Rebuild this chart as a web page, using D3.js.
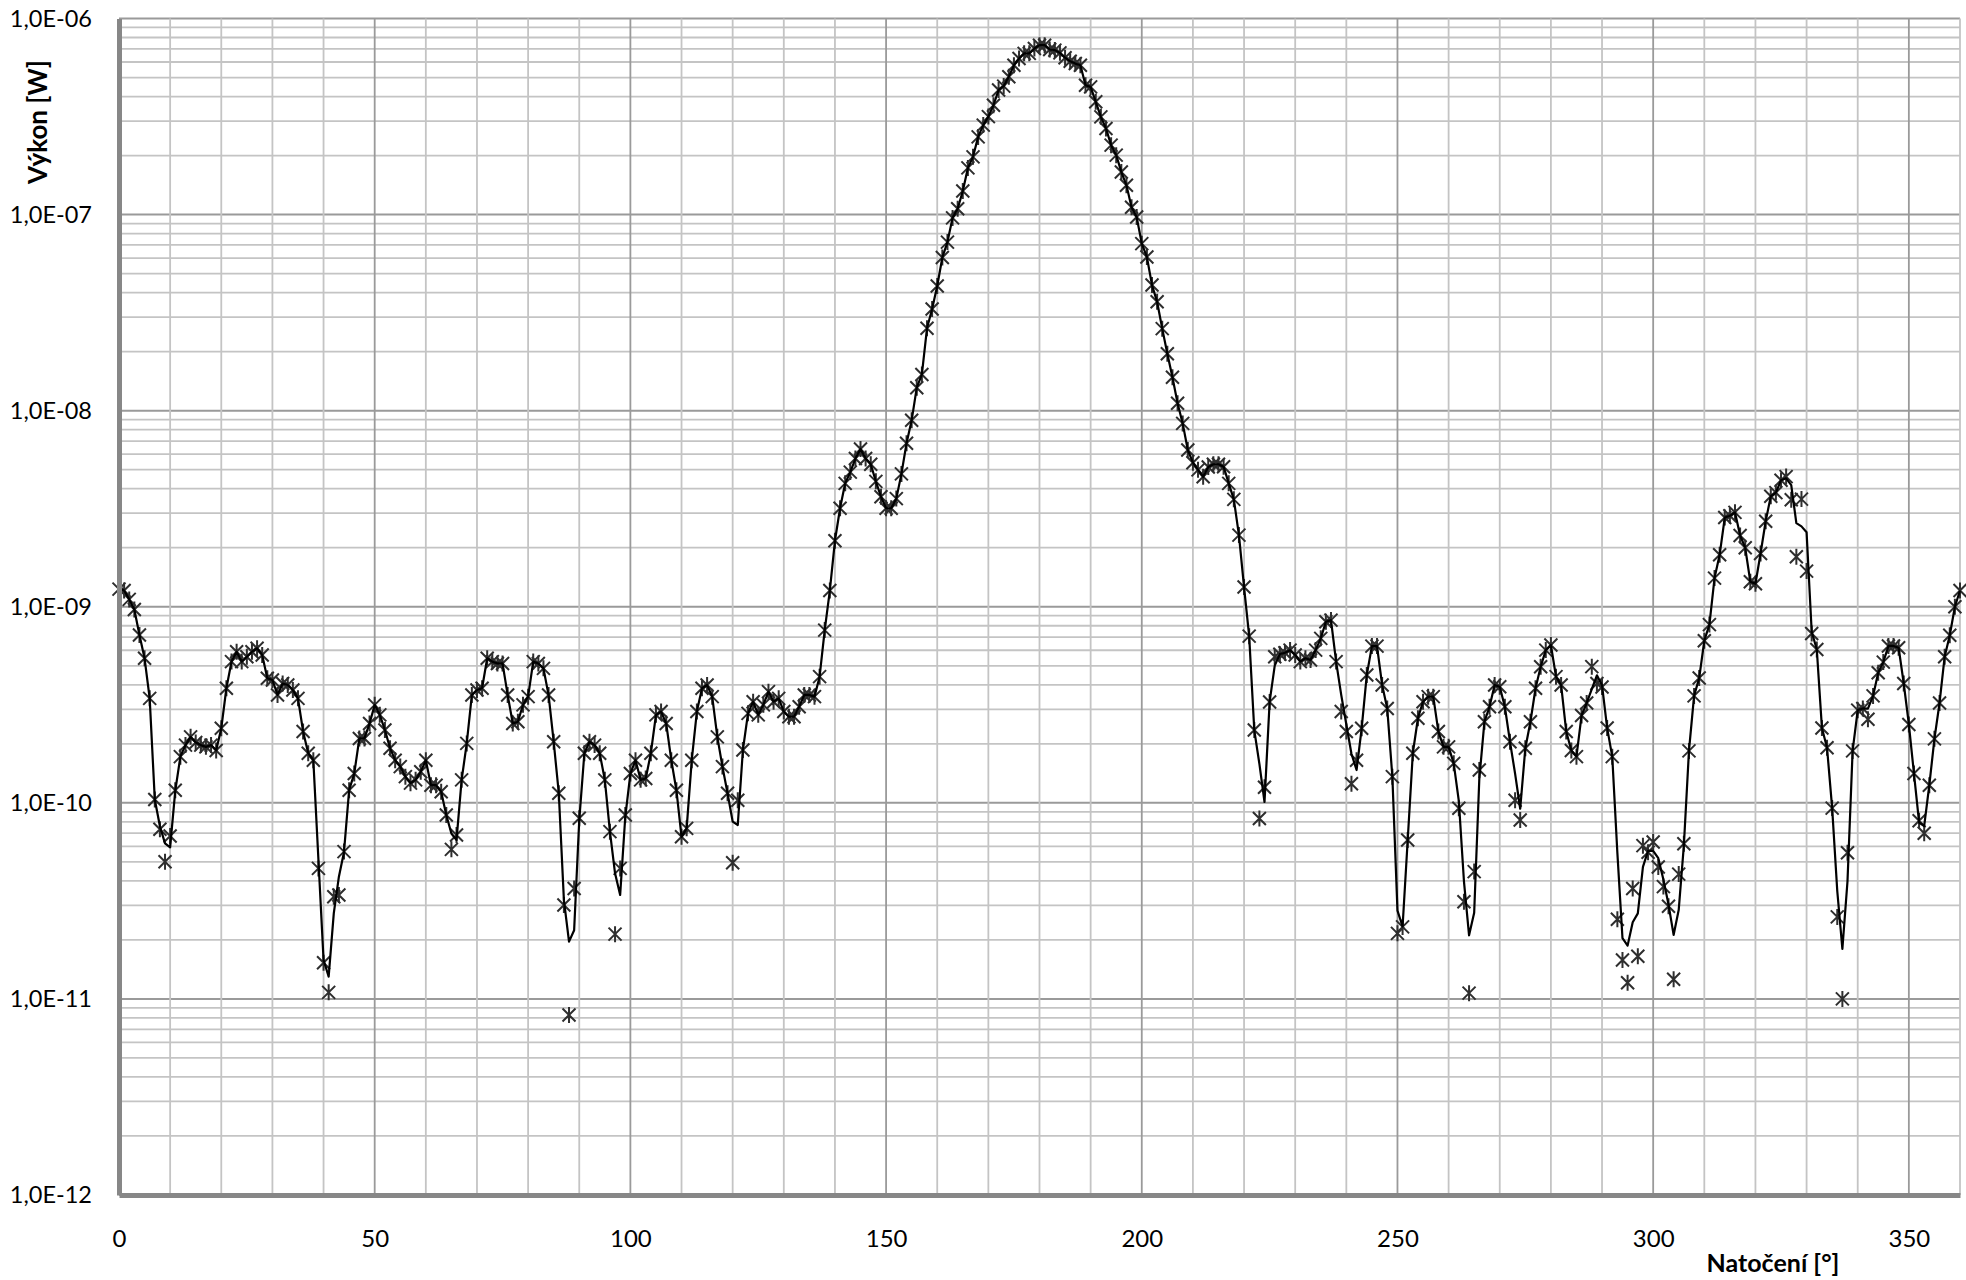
<!DOCTYPE html>
<html>
<head>
<meta charset="utf-8">
<script src="https://cdn.jsdelivr.net/npm/d3@7"></script>
<style>
  body { margin: 0; background: #fff; }
  svg { display: block; }
  text { font-family: Lato, "Open Sans", sans-serif; fill: #000; }
</style>
</head>
<body>
<div class="chart"></div>
<script>
// Width and height of the page
var w = 1966;
var h = 1280;

// plot area edges (px)
var margin = ({top: 18.5, right: 6, bottom: 85, left: 119});

// angle of rotation, one reading per degree
var angles = d3.range(0, 361);

// measured power [W] (star markers)
var measured = [
  1.23e-9, 1.21e-9, 1.09e-9, 9.68e-10, 7.18e-10, 5.46e-10, 3.41e-10, 1.04e-10, 7.33e-11, 5.01e-11,
  6.78e-11, 1.16e-10, 1.72e-10, 1.97e-10, 2.17e-10, 2.03e-10, 1.97e-10, 1.93e-10, 1.97e-10, 1.85e-10,
  2.40e-10, 3.84e-10, 5.25e-10, 5.90e-10, 5.25e-10, 5.56e-10, 5.90e-10, 6.14e-10, 5.68e-10, 4.32e-10,
  4.23e-10, 3.55e-10, 4.06e-10, 3.99e-10, 3.76e-10, 3.41e-10, 2.31e-10, 1.79e-10, 1.65e-10, 4.63e-11,
  1.53e-11, 1.08e-11, 3.32e-11, 3.39e-11, 5.64e-11, 1.16e-10, 1.41e-10, 2.13e-10, 2.13e-10, 2.54e-10,
  3.16e-10, 2.81e-10, 2.35e-10, 1.90e-10, 1.65e-10, 1.53e-10, 1.36e-10, 1.26e-10, 1.31e-10, 1.44e-10,
  1.65e-10, 1.23e-10, 1.23e-10, 1.14e-10, 8.67e-11, 5.79e-11, 6.85e-11, 1.31e-10, 2.01e-10, 3.55e-10,
  3.76e-10, 3.84e-10, 5.46e-10, 5.25e-10, 5.14e-10, 5.14e-10, 3.55e-10, 2.54e-10, 2.59e-10, 3.16e-10,
  3.48e-10, 5.25e-10, 5.14e-10, 4.85e-10, 3.55e-10, 2.05e-10, 1.12e-10, 3.01e-11, 8.28e-12, 3.66e-11,
  8.34e-11, 1.79e-10, 2.05e-10, 1.97e-10, 1.79e-10, 1.31e-10, 7.13e-11, 2.14e-11, 4.63e-11, 8.67e-11,
  1.41e-10, 1.65e-10, 1.31e-10, 1.33e-10, 1.79e-10, 2.81e-10, 2.92e-10, 2.54e-10, 1.65e-10, 1.16e-10,
  6.71e-11, 7.41e-11, 1.65e-10, 2.92e-10, 3.84e-10, 3.99e-10, 3.48e-10, 2.17e-10, 1.53e-10, 1.12e-10,
  4.95e-11, 1.03e-10, 1.86e-10, 2.86e-10, 3.28e-10, 2.81e-10, 3.16e-10, 3.69e-10, 3.28e-10, 3.41e-10,
  2.92e-10, 2.75e-10, 2.75e-10, 3.09e-10, 3.55e-10, 3.55e-10, 3.48e-10, 4.40e-10, 7.60e-10, 1.21e-9,
  2.17e-9, 3.18e-9, 4.26e-9, 4.86e-9, 5.70e-9, 6.38e-9, 5.70e-9, 5.33e-9, 4.36e-9, 3.64e-9,
  3.18e-9, 3.18e-9, 3.56e-9, 4.76e-9, 6.82e-9, 8.93e-9, 1.31e-8, 1.53e-8, 2.63e-8, 3.30e-8,
  4.32e-8, 6.04e-8, 7.24e-8, 9.62e-8, 1.07e-7, 1.32e-7, 1.73e-7, 1.97e-7, 2.49e-7, 2.86e-7,
  3.16e-7, 3.61e-7, 4.32e-7, 4.52e-7, 5.05e-7, 5.78e-7, 6.25e-7, 6.64e-7, 6.64e-7, 7.03e-7,
  7.31e-7, 7.31e-7, 6.95e-7, 6.90e-7, 6.68e-7, 6.31e-7, 6.05e-7, 5.89e-7, 5.78e-7, 4.57e-7,
  4.48e-7, 3.76e-7, 3.15e-7, 2.75e-7, 2.26e-7, 2.01e-7, 1.65e-7, 1.41e-7, 1.09e-7, 9.72e-8,
  7.11e-8, 6.08e-8, 4.37e-8, 3.59e-8, 2.62e-8, 1.95e-8, 1.48e-8, 1.09e-8, 8.61e-9, 6.30e-9,
  5.43e-9, 4.99e-9, 4.60e-9, 5.16e-9, 5.33e-9, 5.33e-9, 5.18e-9, 4.26e-9, 3.53e-9, 2.32e-9,
  1.26e-9, 7.08e-10, 2.35e-10, 8.32e-11, 1.20e-10, 3.27e-10, 5.56e-10, 5.73e-10, 5.83e-10, 6.01e-10,
  5.68e-10, 5.25e-10, 5.46e-10, 5.35e-10, 6.01e-10, 6.90e-10, 8.39e-10, 8.55e-10, 5.25e-10, 2.92e-10,
  2.31e-10, 1.25e-10, 1.65e-10, 2.40e-10, 4.49e-10, 6.30e-10, 6.30e-10, 3.99e-10, 3.03e-10, 1.36e-10,
  2.16e-11, 2.33e-11, 6.46e-11, 1.79e-10, 2.70e-10, 3.28e-10, 3.48e-10, 3.48e-10, 2.31e-10, 1.93e-10,
  1.93e-10, 1.59e-10, 9.38e-11, 3.13e-11, 1.07e-11, 4.46e-11, 1.47e-10, 2.59e-10, 3.09e-10, 3.99e-10,
  3.91e-10, 3.09e-10, 2.05e-10, 1.03e-10, 8.17e-11, 1.90e-10, 2.59e-10, 3.84e-10, 4.94e-10, 6.01e-10,
  6.38e-10, 4.40e-10, 3.99e-10, 2.31e-10, 1.85e-10, 1.72e-10, 2.79e-10, 3.23e-10, 4.95e-10, 4.06e-10,
  3.90e-10, 2.41e-10, 1.72e-10, 2.55e-11, 1.58e-11, 1.21e-11, 3.66e-11, 1.65e-11, 6.05e-11, 5.60e-11,
  6.31e-11, 4.71e-11, 3.74e-11, 2.97e-11, 1.26e-11, 4.33e-11, 6.18e-11, 1.84e-10, 3.51e-10, 4.33e-10,
  6.71e-10, 8.11e-10, 1.40e-9, 1.84e-9, 2.85e-9, 2.91e-9, 3.03e-9, 2.31e-9, 2.00e-9, 1.34e-9,
  1.31e-9, 1.87e-9, 2.73e-9, 3.66e-9, 3.82e-9, 4.42e-9, 4.61e-9, 3.51e-9, 1.80e-9, 3.54e-9,
  1.52e-9, 7.31e-10, 6.05e-10, 2.41e-10, 1.91e-10, 9.40e-11, 2.62e-11, 1.00e-11, 5.56e-11, 1.84e-10,
  2.97e-10, 3.03e-10, 2.67e-10, 3.51e-10, 4.61e-10, 5.22e-10, 6.31e-10, 6.31e-10, 6.18e-10, 4.06e-10,
  2.51e-10, 1.41e-10, 8.11e-11, 7.00e-11, 1.23e-10, 2.12e-10, 3.23e-10, 5.56e-10, 7.16e-10, 1.00e-9,
  1.21e-9
];

// second series [W] (solid line)
var lineSeries = [
  1.24e-9, 1.21e-9, 1.09e-9, 9.68e-10, 7.18e-10, 5.46e-10, 3.41e-10, 1.04e-10, 7.59e-11, 6.21e-11,
  5.93e-11, 1.15e-10, 1.72e-10, 1.97e-10, 2.17e-10, 2.03e-10, 1.97e-10, 1.93e-10, 1.97e-10, 1.85e-10,
  2.40e-10, 3.84e-10, 5.25e-10, 5.90e-10, 5.25e-10, 5.56e-10, 5.90e-10, 6.14e-10, 5.68e-10, 4.32e-10,
  4.23e-10, 3.55e-10, 4.06e-10, 3.99e-10, 3.76e-10, 3.41e-10, 2.31e-10, 1.79e-10, 1.65e-10, 5.11e-11,
  1.58e-11, 1.30e-11, 2.73e-11, 4.20e-11, 5.62e-11, 1.16e-10, 1.41e-10, 2.13e-10, 2.13e-10, 2.54e-10,
  3.16e-10, 2.81e-10, 2.35e-10, 1.90e-10, 1.65e-10, 1.53e-10, 1.36e-10, 1.26e-10, 1.31e-10, 1.44e-10,
  1.65e-10, 1.23e-10, 1.23e-10, 1.14e-10, 8.67e-11, 6.98e-11, 6.46e-11, 1.31e-10, 2.01e-10, 3.55e-10,
  3.76e-10, 3.84e-10, 5.46e-10, 5.25e-10, 5.14e-10, 5.14e-10, 3.55e-10, 2.54e-10, 2.59e-10, 3.16e-10,
  3.48e-10, 5.25e-10, 5.14e-10, 4.85e-10, 3.55e-10, 2.05e-10, 1.12e-10, 3.19e-11, 1.96e-11, 2.24e-11,
  8.17e-11, 1.79e-10, 2.05e-10, 1.97e-10, 1.79e-10, 1.31e-10, 7.13e-11, 4.37e-11, 3.39e-11, 8.49e-11,
  1.41e-10, 1.65e-10, 1.31e-10, 1.33e-10, 1.79e-10, 2.81e-10, 2.92e-10, 2.54e-10, 1.65e-10, 1.16e-10,
  6.71e-11, 7.41e-11, 1.65e-10, 2.92e-10, 3.84e-10, 3.99e-10, 3.48e-10, 2.17e-10, 1.53e-10, 1.12e-10,
  8.02e-11, 7.71e-11, 1.86e-10, 2.86e-10, 3.28e-10, 2.81e-10, 3.16e-10, 3.69e-10, 3.28e-10, 3.41e-10,
  2.92e-10, 2.75e-10, 2.75e-10, 3.09e-10, 3.55e-10, 3.55e-10, 3.48e-10, 4.40e-10, 7.60e-10, 1.21e-9,
  2.17e-9, 3.18e-9, 4.26e-9, 4.86e-9, 5.70e-9, 6.38e-9, 5.70e-9, 5.33e-9, 4.36e-9, 3.64e-9,
  3.18e-9, 3.18e-9, 3.56e-9, 4.76e-9, 6.82e-9, 8.93e-9, 1.31e-8, 1.53e-8, 2.63e-8, 3.30e-8,
  4.32e-8, 6.04e-8, 7.24e-8, 9.62e-8, 1.07e-7, 1.32e-7, 1.73e-7, 1.97e-7, 2.49e-7, 2.86e-7,
  3.16e-7, 3.61e-7, 4.32e-7, 4.52e-7, 5.05e-7, 5.78e-7, 6.25e-7, 6.64e-7, 6.64e-7, 7.03e-7,
  7.31e-7, 7.31e-7, 6.95e-7, 6.90e-7, 6.68e-7, 6.31e-7, 6.05e-7, 5.89e-7, 5.78e-7, 4.57e-7,
  4.48e-7, 3.76e-7, 3.15e-7, 2.75e-7, 2.26e-7, 2.01e-7, 1.65e-7, 1.41e-7, 1.09e-7, 9.72e-8,
  7.11e-8, 6.08e-8, 4.37e-8, 3.59e-8, 2.62e-8, 1.95e-8, 1.48e-8, 1.09e-8, 8.61e-9, 6.30e-9,
  5.43e-9, 4.99e-9, 4.60e-9, 5.16e-9, 5.33e-9, 5.33e-9, 5.18e-9, 4.26e-9, 3.53e-9, 2.32e-9,
  1.26e-9, 7.08e-10, 2.35e-10, 1.58e-10, 1.01e-10, 3.27e-10, 5.01e-10, 5.73e-10, 5.83e-10, 6.01e-10,
  5.68e-10, 5.25e-10, 5.46e-10, 5.35e-10, 6.01e-10, 6.90e-10, 8.39e-10, 8.55e-10, 5.25e-10, 3.55e-10,
  2.51e-10, 1.78e-10, 1.47e-10, 2.40e-10, 4.49e-10, 6.30e-10, 6.30e-10, 3.99e-10, 3.03e-10, 1.36e-10,
  2.82e-11, 2.34e-11, 6.46e-11, 1.79e-10, 2.70e-10, 3.28e-10, 3.48e-10, 3.48e-10, 2.31e-10, 1.93e-10,
  1.93e-10, 1.59e-10, 1.02e-10, 3.98e-11, 2.11e-11, 2.75e-11, 1.32e-10, 2.59e-10, 3.09e-10, 3.99e-10,
  3.91e-10, 3.09e-10, 2.05e-10, 1.41e-10, 9.33e-11, 1.90e-10, 2.59e-10, 3.84e-10, 4.94e-10, 6.01e-10,
  6.38e-10, 4.40e-10, 3.99e-10, 2.31e-10, 1.85e-10, 1.72e-10, 2.79e-10, 3.23e-10, 3.80e-10, 4.47e-10,
  3.98e-10, 2.41e-10, 1.72e-10, 5.56e-11, 2.04e-11, 1.87e-11, 2.46e-11, 2.73e-11, 4.71e-11, 5.69e-11,
  5.69e-11, 5.22e-11, 4.06e-11, 3.03e-11, 2.12e-11, 2.85e-11, 6.05e-11, 1.84e-10, 3.51e-10, 4.33e-10,
  6.71e-10, 8.11e-10, 1.40e-9, 1.84e-9, 2.85e-9, 2.91e-9, 3.03e-9, 2.31e-9, 2.00e-9, 1.34e-9,
  1.31e-9, 1.87e-9, 2.73e-9, 3.66e-9, 3.82e-9, 4.42e-9, 4.52e-9, 4.17e-9, 2.67e-9, 2.57e-9,
  2.40e-9, 7.46e-10, 6.05e-10, 2.41e-10, 1.91e-10, 9.40e-11, 3.55e-11, 1.80e-11, 3.98e-11, 1.84e-10,
  2.97e-10, 3.03e-10, 3.02e-10, 3.51e-10, 4.61e-10, 5.22e-10, 6.31e-10, 6.31e-10, 6.18e-10, 4.06e-10,
  2.51e-10, 1.41e-10, 7.94e-11, 7.62e-11, 1.23e-10, 2.12e-10, 3.23e-10, 5.56e-10, 7.16e-10, 1.00e-9,
  1.21e-9
];

// axis ticks
var xTicks = [0, 50, 100, 150, 200, 250, 300, 350];
var yTicks = [1e-12, 1e-11, 1e-10, 1e-9, 1e-8, 1e-7, 1e-6];
var yTickLabels = ["1,0E-12", "1,0E-11", "1,0E-10", "1,0E-09", "1,0E-08", "1,0E-07", "1,0E-06"];

var svg = d3.select(".chart")
    .append("svg")
    .attr("width", w)
    .attr("height", h);

// scales
var xScale = d3.scaleLinear()
    .domain([0, 360])
    .range([margin.left, w - margin.right]);

var yScale = d3.scaleLog()
    .domain([1e-12, 1e-6])
    .range([h - margin.bottom, margin.top]);

// minor grid values 2..9 inside every decade
var minorY = [];
yTicks.slice(0, -1).forEach(function(t) {
    for (var k = 2; k <= 9; k++) minorY.push(t * k);
});

var grid = svg.append("g").attr("class", "grid");

// horizontal grid
grid.selectAll("line.hminor")
    .data(minorY)
    .enter().append("line")
    .attr("x1", margin.left).attr("x2", w - margin.right)
    .attr("y1", function(d) { return yScale(d); })
    .attr("y2", function(d) { return yScale(d); })
    .attr("stroke", "#c4c4c4")
    .attr("stroke-width", 1.8);

grid.selectAll("line.hmajor")
    .data(yTicks)
    .enter().append("line")
    .attr("x1", margin.left).attr("x2", w - margin.right)
    .attr("y1", function(d) { return yScale(d); })
    .attr("y2", function(d) { return yScale(d); })
    .attr("stroke", "#9a9a9a")
    .attr("stroke-width", 2);

// vertical grid every 10 degrees, darker every 50
grid.selectAll("line.v")
    .data(d3.range(10, 361, 10))
    .enter().append("line")
    .attr("x1", function(d) { return xScale(d); })
    .attr("x2", function(d) { return xScale(d); })
    .attr("y1", margin.top).attr("y2", h - margin.bottom)
    .attr("stroke", function(d) { return d % 50 == 0 ? "#9a9a9a" : "#c4c4c4"; })
    .attr("stroke-width", 1.8);

// measured points as star markers (X with a vertical bar)
var star = "M-6.5,-6.5L6.5,6.5M-6.5,6.5L6.5,-6.5M0,-8L0,8";
svg.append("g")
    .selectAll("path")
    .data(angles)
    .enter().append("path")
    .attr("d", star)
    .attr("transform", function(d, i) { return "translate(" + xScale(d) + "," + yScale(measured[i]) + ")"; })
    .attr("fill", "none")
    .attr("stroke", "#2e2e2e")
    .attr("stroke-width", 2);

// the line series
var line = d3.line()
    .x(function(d) { return xScale(d); })
    .y(function(d, i) { return yScale(lineSeries[i]); });

svg.append("path")
    .datum(angles)
    .attr("d", line)
    .attr("fill", "none")
    .attr("stroke", "#000")
    .attr("stroke-width", 2.2)
    .attr("stroke-linejoin", "round");

// axes (no tick marks, thick grey lines)
var xAxis = d3.axisBottom(xScale).tickValues(xTicks).tickSize(0).tickPadding(35);
var yAxis = d3.axisLeft(yScale).tickValues(yTicks).tickSize(0).tickPadding(27)
    .tickFormat(function(d, i) { return yTickLabels[i]; });

var gx = svg.append("g")
    .attr("transform", "translate(0," + (h - margin.bottom) + ")")
    .call(xAxis);
gx.select(".domain").attr("stroke", "#878787").attr("stroke-width", 5);
gx.selectAll("text").style("font-size", "24px").style("font-family", "Lato");

var gy = svg.append("g")
    .attr("transform", "translate(" + margin.left + ",0)")
    .call(yAxis);
gy.select(".domain").attr("stroke", "#878787").attr("stroke-width", 5);
gy.selectAll("text").style("font-size", "23.5px").style("font-family", "Lato");

// axis titles
svg.append("text")
    .attr("x", 1773).attr("y", 1272)
    .attr("text-anchor", "middle")
    .style("font-size", "25px").style("font-weight", "bold")
    .text("Natočení [°]");

svg.append("text")
    .attr("transform", "translate(47,122) rotate(-90)")
    .attr("text-anchor", "middle")
    .style("font-size", "26px").style("font-weight", "bold")
    .text("Výkon [W]");
</script>
</body>
</html>
